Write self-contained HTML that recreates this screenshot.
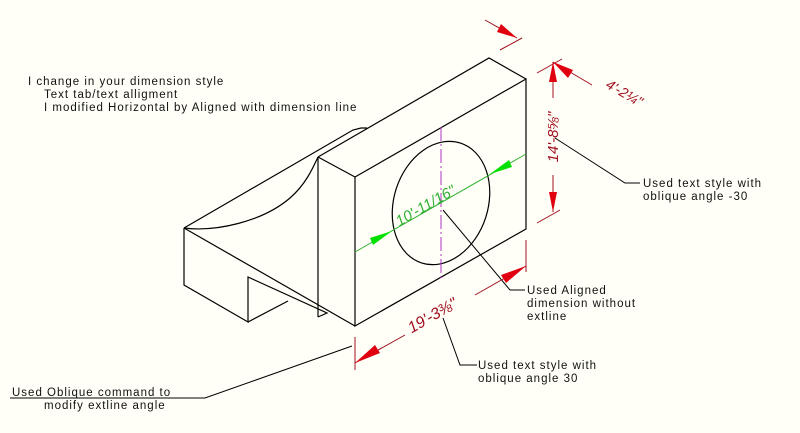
<!DOCTYPE html>
<html><head><style>
html,body{margin:0;padding:0;background:#fffff7;}
svg{display:block}
text{font-family:"Liberation Sans",sans-serif;}
.t{font-size:11.5px;fill:#111;letter-spacing:1px}
</style></head><body>
<svg width="800" height="433" viewBox="0 0 800 433" xmlns="http://www.w3.org/2000/svg">
<rect width="800" height="433" fill="#fffff7"/>
<g stroke="#000" stroke-width="1.2" fill="none">
<polyline points="184,228 353,130 361,128 367,128"/>
<path d="M184,228 C215,232 262,222 290,198 C305,185 312,170 318,157"/>
<polyline points="184,228 184,285 248,322 248,277 327,313 318,317"/>
<line x1="248" y1="322" x2="288" y2="301"/>
<line x1="184" y1="228" x2="355" y2="326"/>
<polyline points="318,157 318,317"/>
<polygon points="355,177 526,79 526,229 355,326"/>
<polyline points="318,157 489,58 526,79"/>
<line x1="318" y1="157" x2="355" y2="177"/>
<ellipse cx="441" cy="203" rx="47" ry="63" transform="rotate(18 441 203)"/>
<polyline stroke-width="1" points="443,210 510,290 525,290"/>
<polyline stroke-width="1" points="443,318 460,365 477,365"/>
<polyline stroke-width="1" points="555,138 625,183 640,183"/>
<polyline stroke-width="1" points="352,346 205,398 10,398"/>
</g>
<line x1="441" y1="127" x2="441" y2="278" stroke="#b030c0" stroke-width="1" stroke-dasharray="14,3,2,3"/>
<line x1="355" y1="252" x2="526" y2="154" stroke="#30b030" stroke-width="1"/>
<polygon points="392,231 370,238 373,245" fill="#00e000"/>
<polygon points="490,174 512,167 509,160" fill="#00e000"/>
<text x="428" y="210" fill="#30b030" font-size="15" transform="rotate(-30 428 210)" text-anchor="middle" font-style="italic">10'-11/16"</text>
<g stroke="#a01020" stroke-width="1">
<line x1="355" y1="337" x2="355" y2="370"/>
<line x1="526" y1="240" x2="526" y2="272"/>
<line x1="355" y1="363" x2="405" y2="335"/>
<line x1="475" y1="295" x2="526" y2="266"/>
<line x1="553" y1="62" x2="553" y2="98"/>
<line x1="553" y1="175" x2="553" y2="212"/>
<line x1="537" y1="73" x2="562" y2="59"/>
<line x1="537" y1="223" x2="560" y2="210"/>
<line x1="553" y1="62" x2="592" y2="85"/>
<line x1="485" y1="20" x2="517" y2="38"/>
<line x1="500" y1="50" x2="522" y2="38"/>
</g>
<g fill="#e00010">
<polygon points="355,363 375,345 380,353"/>
<polygon points="526,266 506,283 501,275"/>
<polygon points="553,62 549,82 557,82"/>
<polygon points="553,212 549,192 557,192"/>
<polygon points="553,62 568,78 573,70"/>
<polygon points="517,38 497,32 501,24"/>
</g>
<text x="435" y="320" fill="#a01020" font-size="16" transform="rotate(-30 435 320)" text-anchor="middle" font-style="italic">19'-3⅜"</text>
<text x="558" y="137" fill="#a01020" font-size="15" transform="rotate(-90 558 137)" text-anchor="middle" font-style="italic">14'-8⅝"</text>
<text x="622" y="97" fill="#a01020" font-size="14" transform="rotate(30 622 97)" text-anchor="middle" font-style="italic">4'-2¼"</text>
<text class="t" x="28" y="85">I change in your dimension style</text>
<text class="t" x="44" y="98">Text tab/text alligment</text>
<text class="t" x="44" y="111">I modified Horizontal by Aligned with dimension line</text>
<text class="t" x="527" y="294">Used Aligned</text>
<text class="t" x="527" y="307">dimension without</text>
<text class="t" x="527" y="320">extline</text>
<text class="t" x="478" y="369">Used text style with</text>
<text class="t" x="478" y="382">oblique angle 30</text>
<text class="t" x="643" y="187">Used text style with</text>
<text class="t" x="643" y="200">oblique angle -30</text>
<text class="t" x="12" y="396">Used Oblique command to</text>
<text class="t" x="44" y="409">modify extline angle</text>
</svg>
</body></html>
